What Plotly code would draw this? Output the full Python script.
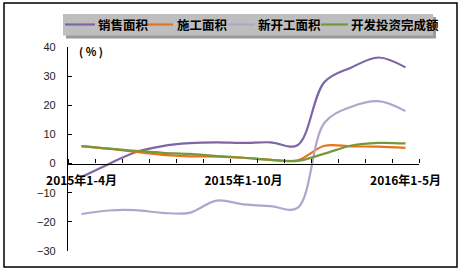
import plotly.graph_objects as go

categories = ["2015年1-4月", "2015年1-5月", "2015年1-6月", "2015年1-7月", "2015年1-8月",
              "2015年1-9月", "2015年1-10月", "2015年1-11月", "2015年1-12月",
              "2016年1-2月", "2016年1-3月", "2016年1-4月", "2016年1-5月"]
label_idx = [0, 6, 12]

sales_area = [-4.6, -0.2, 3.9, 6.0, 7.0, 7.3, 7.1, 7.3, 6.3, 28.0, 33.0, 36.4, 33.0]
construction_area = [6.0, 5.1, 4.0, 3.0, 2.5, 2.4, 2.0, 1.3, 1.1, 6.1, 5.9, 5.8, 5.4]
new_construction = [-17.3, -16.1, -16.0, -16.9, -16.9, -12.7, -14.0, -14.6, -15.2, 14.0, 19.5, 21.4, 18.0]
investment = [6.0, 5.1, 4.4, 3.7, 3.3, 2.6, 2.0, 1.3, 0.9, 3.4, 6.2, 7.1, 6.9]

series_names = ["销售面积", "施工面积", "新开工面积", "开发投资完成额"]
series_values = [sales_area, construction_area, new_construction, investment]
series_colors = ["#7E66A6", "#E8731A", "#B2A5CB", "#76983C"]

# plot-area geometry in pixels (for styling elements outside the data)
L, R, T, B = 68, 419, 47, 251
def px(x):
    return (x - L) / (R - L)
def py(y):
    return (B - y) / (B - T)

xs = list(range(len(categories)))
fig = go.Figure()
for name, vals, color in zip(series_names, series_values, series_colors):
    fig.add_trace(go.Scatter(x=xs, y=vals, name=name, mode="lines", showlegend=False,
                             line=dict(color=color, width=2.2, shape="spline", smoothing=1)))

cjk = "Noto Sans CJK SC"
fig.update_layout(
    width=462, height=272,
    margin=dict(l=L, r=462 - R, t=T, b=272 - B),
    paper_bgcolor="white", plot_bgcolor="white",
    showlegend=False,
    xaxis=dict(range=[-0.5, 12.5], anchor="free", position=30/70, automargin=False,
               tickmode="array", tickvals=label_idx,
               ticktext=[categories[i] for i in label_idx],
               ticks="", showgrid=False, zeroline=False,
               showline=True, linecolor="black", linewidth=1.3,
               tickfont=dict(family=cjk, size=12, color="black", weight="bold"),
               ticklabelstandoff=6,
               minor=dict(tickmode="linear", tick0=-0.5, dtick=1, ticks="inside",
                          ticklen=4, tickcolor="black", tickwidth=1, showgrid=False)),
    yaxis=dict(range=[-30, 40], tickmode="linear", tick0=-30, dtick=10, automargin=False,
               ticks="inside", ticklen=4, tickcolor="black", tickwidth=1,
               showgrid=False, zeroline=False, showline=True, linecolor="black", linewidth=1.3,
               tickfont=dict(family="Liberation Sans", size=11, color="#222"),
               ticklabelstandoff=9),
)

fig.add_annotation(text="( % )", xref="paper", yref="paper", x=px(91), y=py(51),
                   xanchor="center", yanchor="middle",
                   showarrow=False, font=dict(family=cjk, size=11, color="black", weight="bold"))

# outer border
fig.add_shape(type="rect", xref="paper", yref="paper",
              x0=px(4), x1=px(457), y0=py(267), y1=py(3),
              line=dict(color="black", width=1.5), fillcolor="rgba(0,0,0,0)", layer="below")

# legend box with shadow
fig.add_shape(type="rect", xref="paper", yref="paper",
              x0=px(66), x1=px(436), y0=py(38.5), y1=py(17),
              line=dict(width=0), fillcolor="#9A9A9A", layer="above")
fig.add_shape(type="rect", xref="paper", yref="paper",
              x0=px(63), x1=px(433), y0=py(35.5), y1=py(14),
              line=dict(width=0), fillcolor="#BEBEBE", layer="above")
legend_lines = [(65, 95), (147, 173), (228, 255), (321, 348)]
legend_text_x = [96, 175, 256, 349]
for (a, b), tx, name, color in zip(legend_lines, legend_text_x, series_names, series_colors):
    fig.add_shape(type="line", xref="paper", yref="paper", x0=px(a), x1=px(b),
                  y0=py(24.5), y1=py(24.5), line=dict(color=color, width=2.2), layer="above")
    fig.add_annotation(text=name, xref="paper", yref="paper", x=px(tx), y=py(24.8),
                       xanchor="left", yanchor="middle", showarrow=False,
                       font=dict(family=cjk, size=12.5, color="black", weight="bold"))

fig.write_html("out.html")
